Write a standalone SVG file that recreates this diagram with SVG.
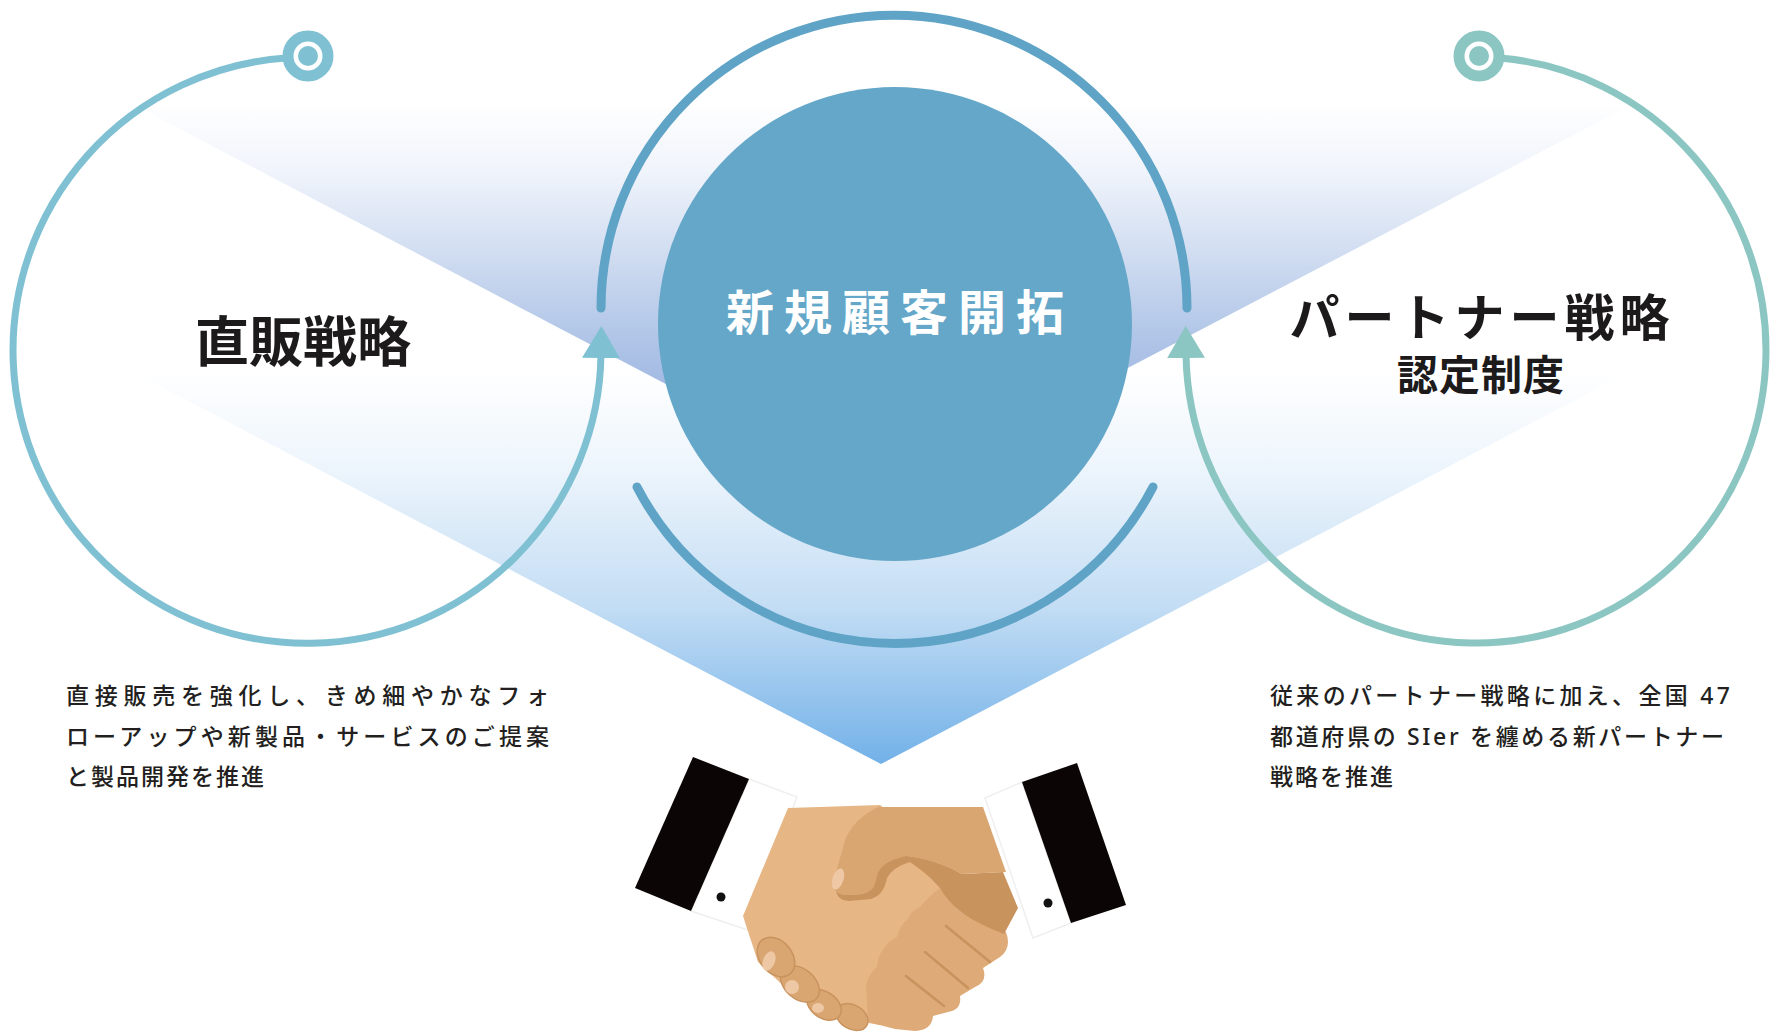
<svg xmlns="http://www.w3.org/2000/svg" width="1775" height="1032" viewBox="0 0 1775 1032">
  <defs>
    <linearGradient id="gradUpper" gradientUnits="userSpaceOnUse" x1="0" y1="100" x2="0" y2="497">
      <stop offset="0" stop-color="#ffffff"/>
      <stop offset="0.18" stop-color="#f0f4fb"/>
      <stop offset="0.6" stop-color="#b0c5e7"/>
      <stop offset="1" stop-color="#849fd8"/>
    </linearGradient>
    <linearGradient id="gradLower" gradientUnits="userSpaceOnUse" x1="0" y1="370" x2="0" y2="764">
      <stop offset="0" stop-color="#ffffff"/>
      <stop offset="0.25" stop-color="#edf5fc"/>
      <stop offset="0.6" stop-color="#c3ddf4"/>
      <stop offset="1" stop-color="#72b1e8"/>
    </linearGradient>
    <marker id="arrowLeft" viewBox="0 0 32 38" refX="4" refY="19" markerWidth="32" markerHeight="38" markerUnits="userSpaceOnUse" orient="auto">
      <path d="M0,0 L32,19 L0,38 Z" fill="#7fc1d2"/>
    </marker>
    <marker id="arrowRight" viewBox="0 0 32 38" refX="4" refY="19" markerWidth="32" markerHeight="38" markerUnits="userSpaceOnUse" orient="auto">
      <path d="M0,0 L32,19 L0,38 Z" fill="#8cc6c3"/>
    </marker>
    <style>
      .loop { fill: none; stroke-width: 7; stroke-linecap: round; }
      .loop-left { stroke: #7fc1d2; }
      .loop-right { stroke: #8cc6c3; }
      .orbit { fill: none; stroke: #5fa4c6; stroke-width: 9; stroke-linecap: round; }
      .ring { fill: #ffffff; stroke-width: 11; }
      .title { font-family: "Noto Sans", "Noto Sans CJK JP", sans-serif; font-weight: 700; fill: #1c1a1b; text-anchor: middle; }
      .desc { font-family: "Noto Sans", "Noto Sans CJK JP", sans-serif; font-size: 23px; font-weight: 500; fill: #231f20; letter-spacing: 2px; }
      .skin-light { fill: #e7b685; }
      .skin-mid { fill: #deaa77; }
      .skin-top { fill: #d9a571; }
      .skin-dark { fill: #c9935e; }
      .nail { fill: #eec8a5; }
      .sleeve { fill: #0c0506; }
      .cuff { fill: #ffffff; stroke: #efefef; stroke-width: 1.5; }
    </style>
  </defs>

  <rect width="1775" height="1032" fill="#ffffff"/>

  <!-- soft funnel bands behind the loops -->
  <g id="backdrop">
    <polygon points="129,370 1633,370 881,764" fill="url(#gradLower)"/>
    <polygon points="140,108 1625,108 881,497" fill="url(#gradUpper)"/>
  </g>

  <!-- loops and orbits -->
  <g id="connectors">
    <path class="loop loop-left" d="M286,58 A294,293 0 1 0 601,354" marker-end="url(#arrowLeft)"/>
    <path class="loop loop-right" d="M1500,58 A290,293 0 1 1 1186,354" marker-end="url(#arrowRight)"/>
    <path class="orbit" d="M601,308 A293,293 0 0 1 1187,308"/>
    <path class="orbit" d="M637,487 A291,291 0 0 0 1153,487"/>
  </g>

  <g id="node-direct-sales">
    <circle class="ring" cx="308" cy="56" r="20" stroke="#7fc1d2"/>
    <circle cx="308" cy="56" r="10" fill="#7fc1d2"/>
    <text class="title" x="303" y="362" font-size="54">直販戦略</text>
    <text class="desc" x="66" y="704" textLength="485" lengthAdjust="spacing">直接販売を強化し、きめ細やかなフォ</text>
    <text class="desc" x="66" y="745" textLength="485" lengthAdjust="spacing">ローアップや新製品・サービスのご提案</text>
    <text class="desc" x="66" y="785">と製品開発を推進</text>
  </g>

  <g id="node-partner">
    <circle class="ring" cx="1479" cy="56" r="20" stroke="#8cc6c3"/>
    <circle cx="1479" cy="56" r="10" fill="#8cc6c3"/>
    <text class="title" x="1482" y="336" font-size="50" letter-spacing="5">パートナー戦略</text>
    <text class="title" x="1481" y="390" font-size="41" letter-spacing="1">認定制度</text>
    <text class="desc" x="1270" y="704" textLength="462" lengthAdjust="spacing">従来のパートナー戦略に加え、全国 47</text>
    <text class="desc" x="1270" y="745" textLength="456" lengthAdjust="spacing">都道府県の SIer を纏める新パートナー</text>
    <text class="desc" x="1270" y="785">戦略を推進</text>
  </g>

  <g id="node-new-customers">
    <circle cx="895" cy="324" r="237" fill="#65a7c8"/>
    <text class="title" x="900" y="330" font-size="48" letter-spacing="10" style="fill:#ffffff">新規顧客開拓</text>
  </g>

  <!-- handshake illustration -->
  <g id="handshake">
    <!-- left sleeve -->
    <polygon class="cuff" points="749,779 797,797 748,930 691,911"/>
    <polygon class="sleeve" points="693,757 749,779 691,911 635,888"/>
    <circle cx="721" cy="897" r="4.5" fill="#111111"/>
    <!-- right sleeve -->
    <polygon class="cuff" points="985,798 1022,782 1071,923 1033,938"/>
    <polygon class="sleeve" points="1022,782 1077,763 1126,905 1071,923"/>
    <circle cx="1048" cy="903" r="4.5" fill="#111111"/>

    <!-- left palm (extends under the wrapping fingers) -->
    <path class="skin-light" d="M788,808 L880,805 L915,830 L960,895 L945,925 L915,960 L895,1000 L880,1025 L840,1018 L790,992 L758,962 L743,916 Z"/>
    <!-- fingers wrapping round the far palm -->
    <path class="skin-mid" d="M940,888 Q950,903 962,913 Q985,925 1006,932 Q1012,948 1000,957 L983,968 Q988,982 975,987 L960,996 Q962,1010 948,1012 L933,1016 Q932,1030 915,1031 L895,1029 L868,1022 L866,985 Q870,972 877,967 Q878,955 883,950 Q889,940 897,937 Q900,925 907,920 Q912,910 920,907 Q930,895 940,888 Z"/>
    <g fill="none" stroke="#c9935e" stroke-width="2.5" stroke-linecap="round">
      <path d="M990,962 L946,926"/>
      <path d="M968,988 L925,952"/>
      <path d="M944,1006 L906,976"/>
    </g>
    <!-- back of the right hand -->
    <path class="skin-dark" d="M898,855 Q935,858 962,874 L1003,872 L1018,908 L1004,934 Q980,925 962,913 Q948,902 940,888 Q925,870 898,855 Z"/>
    <!-- thumb shadow, thumb and upper hand -->
    <path class="skin-dark" d="M883,812 C865,816 853,830 848,848 L837,883 Q833,900 849,901 L871,899 Q884,895 887,878 Q893,867 910,862 L906,835 Z"/>
    <path class="skin-top" d="M878,807 L983,807 L1006,872 L962,874 Q935,859 906,856 L893,860 Q881,865 878,873 L874,887 Q869,894 856,895 L843,895 Q831,892 834,879 L843,848 Q848,822 878,807 Z"/>
    <ellipse class="nail" cx="838" cy="879" rx="5.5" ry="11" transform="rotate(18 838 879)"/>

    <!-- curled fingers at the bottom -->
    <g stroke="#c9935e" stroke-width="1.5">
      <ellipse class="skin-top" cx="852" cy="1017" rx="17" ry="12" transform="rotate(30 852 1017)"/>
      <ellipse class="skin-top" cx="824" cy="1005" rx="19" ry="13" transform="rotate(35 824 1005)"/>
      <ellipse class="skin-top" cx="800" cy="984" rx="22" ry="15" transform="rotate(40 800 984)"/>
      <ellipse class="skin-top" cx="776" cy="957" rx="22" ry="16" transform="rotate(50 776 957)"/>
    </g>
    <ellipse class="nail" cx="769" cy="961" rx="6" ry="10" transform="rotate(20 769 961)"/>
    <ellipse class="nail" cx="792" cy="987" rx="7" ry="7"/>
    <ellipse class="nail" cx="818" cy="1008" rx="6" ry="5"/>
  </g>
</svg>
